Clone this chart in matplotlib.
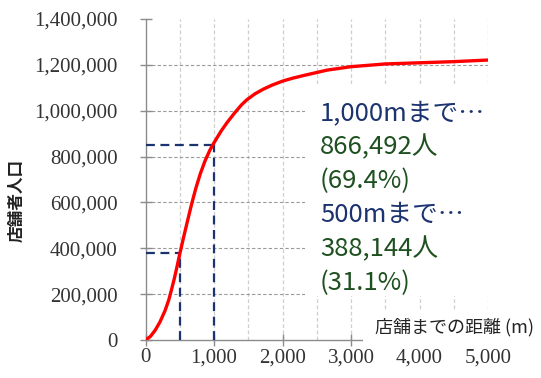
import matplotlib
matplotlib.use("Agg")
import matplotlib.pyplot as plt
from matplotlib.patches import Rectangle
from matplotlib.ticker import FuncFormatter, MultipleLocator

plt.rcParams['font.family'] = ['Noto Sans CJK JP', 'DejaVu Sans']

# data
distance = [0, 70, 140, 210, 285, 340, 380, 420, 455, 500, 550, 600, 675, 735, 800,
            870, 940, 1000, 1060, 1110, 1190, 1300, 1400, 1480, 1600, 1720, 1850,
            2010, 2150, 2300, 2650, 3000, 3500, 4000, 4500, 5000]
population = [0, 15000, 42000, 78000, 128000, 175000, 220000, 267000, 313000, 375000,
              440000, 503000, 595000, 662000, 725000, 782000, 828000, 860000, 890000,
              914000, 948000, 990000, 1025000, 1048000, 1074000, 1094000, 1112000,
              1130000, 1142000, 1153000, 1177000, 1192000, 1204000, 1209000, 1214000,
              1221000]
guide_d = [500, 1000]
guide_p = [378000, 852000]
annot_lines = ["1,000mまで…", "866,492人", "(69.4%)", "500mまで…", "388,144人", "(31.1%)"]
annot_kind = ["head", "val", "val", "head", "val", "val"]
xlabel = "店舗までの距離 (m)"
ylabel = "店舗者人口"

W, H = 541, 378
fig = plt.figure(figsize=(W / 100, H / 100), dpi=100)
x0, x1, y0, y1 = 145.5, 488.0, 340.0, 19.0
ax = fig.add_axes([x0 / W, 1 - y0 / H, (x1 - x0) / W, (y0 - y1) / H])

ax.set_xlim(0, 5000)
ax.set_ylim(0, 1400000)

# grids
for xv in range(500, 5001, 500):
    ax.axvline(xv, color="#cfcfcf", lw=0.9, ls=(0, (3, 2)), zorder=1)
for yv in range(200000, 1200001, 200000):
    ax.plot([0, 5000], [yv, yv], color="#9a9a9a", lw=0.8, ls=(0, (3, 2)), zorder=1)

navy = "#1c3370"
green = "#1f5020"

# dashed guide lines
for d, p in zip(guide_d, guide_p):
    ax.plot([0, d], [p, p], color=navy, lw=1.6, ls=(0, (4, 2.5)), zorder=3)
    ax.plot([d, d], [0, p], color=navy, lw=1.6, ls=(0, (4, 2.5)), zorder=3)

ax.plot(distance, population, color="#ff0000", lw=2.4, zorder=4,
        solid_capstyle="round", solid_joinstyle="round")

for s in ["top", "right"]:
    ax.spines[s].set_visible(False)
for s in ["left", "bottom"]:
    ax.spines[s].set_color("#8c8c8c")
    ax.spines[s].set_linewidth(1.0)

ax.xaxis.set_major_locator(MultipleLocator(1000))
ax.yaxis.set_major_locator(MultipleLocator(200000))
fmt = FuncFormatter(lambda v, pos: f"{int(v):,}")
ax.xaxis.set_major_formatter(fmt)
ax.yaxis.set_major_formatter(fmt)
ax.tick_params(axis="both", direction="inout", length=8, color="#8c8c8c", width=1.0,
               labelsize=15, labelcolor="#333333")
for lab in ax.get_xticklabels() + ax.get_yticklabels():
    lab.set_family("Liberation Serif")
ax.tick_params(axis="x", pad=2)
ax.tick_params(axis="y", pad=16)

# white box behind annotations
ax.add_patch(Rectangle(((305 - x0) / (x1 - x0), (y0 - 296) / (y0 - y1)),
                       (495 - 305) / (x1 - x0), (296 - 84) / (y0 - y1),
                       transform=ax.transAxes, facecolor="white", edgecolor="none",
                       zorder=2, clip_on=False))
baselines = [120, 154, 188, 222, 256, 290]
for t, k, yp in zip(annot_lines, annot_kind, baselines):
    fig.text(320 / W, 1 - yp / H, t, color=navy if k == "head" else green,
             fontsize=18.5, va="baseline", ha="left", zorder=6)

# x label with white background
fig.patches.append(Rectangle((363 / W, 1 - 347 / H), (W - 363) / W, 37 / H,
                             transform=fig.transFigure, facecolor="white",
                             edgecolor="none", zorder=5))
fig.text(375 / W, 1 - 327 / H, xlabel, fontsize=13, va="center", ha="left",
         color="#222222", zorder=6)

fig.text(17 / W, 1 - 200 / H, ylabel, fontsize=12, rotation=90, va="center",
         ha="center", fontweight="bold", color="#222222")

fig.savefig("out.png", dpi=100)
